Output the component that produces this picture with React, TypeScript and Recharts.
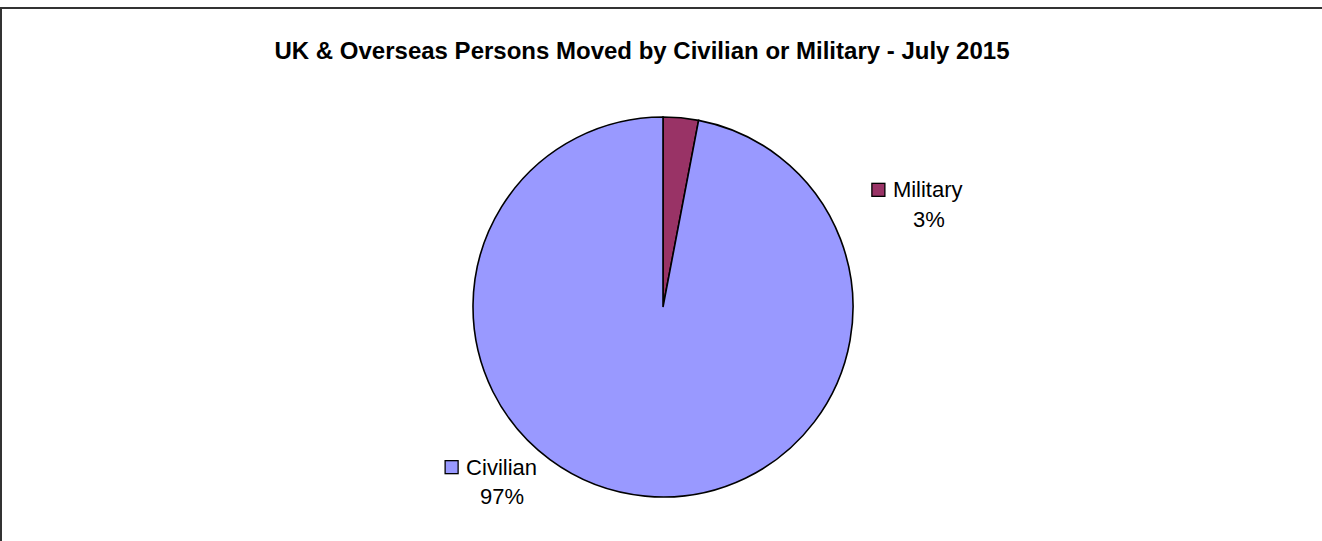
import { Cell, Pie, PieChart } from "recharts"

const title = "UK & Overseas Persons Moved by Civilian or Military - July 2015"
const categories = ["Military", "Civilian"]
const values = [3, 97]
const colors = ["#993366", "#9999FF"]

const data = categories.map((name, i) => ({ name, value: values[i] }))

// where each label sits relative to the slice's outer edge point
const labelOffsets: Record<string, { dx: number; dy: number }> = {
  Military: { dx: 191, dy: 72 },
  Civilian: { dx: -200, dy: -29 },
}

const RAD = Math.PI / 180
const FONT = "Liberation Sans, Arial, sans-serif"

function renderLabel(props: any) {
  const { cx, cy, midAngle, outerRadius, percent, index, name } = props
  const ax = cx + outerRadius * Math.cos(-midAngle * RAD)
  const ay = cy + outerRadius * Math.sin(-midAngle * RAD)
  const off = labelOffsets[name] || { dx: 0, dy: 0 }
  const x = ax + off.dx
  const y = ay + off.dy
  const textX = x + 21
  const nameWidth = name.length * 9
  return (
    <g>
      <rect x={x} y={y - 6.5} width={13} height={13} fill={colors[index]} stroke="#000" strokeWidth={1.3} />
      <text x={textX} y={y} dominantBaseline="central" fontSize={22} fontFamily={FONT} fill="#000">
        {name}
      </text>
      <text
        x={textX + nameWidth / 2}
        y={y + 29.5}
        dominantBaseline="central"
        textAnchor="middle"
        fontSize={22}
        fontFamily={FONT}
        fill="#000"
      >
        {`${Math.round(percent * 100)}%`}
      </text>
    </g>
  )
}

export default function App() {
  return (
    <div style={{ position: "absolute", left: 0, top: 0, width: 1322, height: 541, overflow: "hidden", background: "#fff" }}>
      <div
        style={{
          position: "absolute",
          left: 0,
          top: 7,
          width: 1360,
          height: 600,
          border: "2px solid #333",
          boxSizing: "border-box",
        }}
      />
      <div
        style={{
          position: "absolute",
          left: 642,
          top: 37,
          transform: "translateX(-50%)",
          whiteSpace: "nowrap",
          fontFamily: FONT,
          fontWeight: "bold",
          fontSize: 24,
          color: "#000",
        }}
      >
        {title}
      </div>
      <div style={{ position: "absolute", left: 0, top: 0 }}>
        <PieChart width={1322} height={541} margin={{ top: 0, right: 0, bottom: 0, left: 0 }}>
          <Pie
            data={data}
            dataKey="value"
            nameKey="name"
            cx={663}
            cy={307}
            outerRadius={190}
            startAngle={90}
            endAngle={-270}
            stroke="#000"
            strokeWidth={1.6}
            label={renderLabel}
            labelLine={false}
            isAnimationActive={false}
          >
            {data.map((d, i) => (
              <Cell key={d.name} fill={colors[i]} />
            ))}
          </Pie>
        </PieChart>
      </div>
    </div>
  )
}
